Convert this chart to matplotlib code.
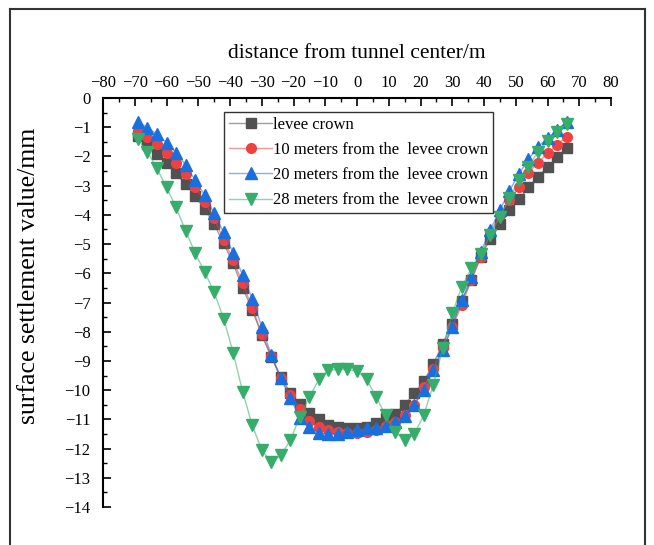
import numpy as np
import matplotlib
matplotlib.use("Agg")
from matplotlib import pyplot as plt
from matplotlib.lines import Line2D

plt.rcParams['font.family'] = ['Liberation Serif', 'DejaVu Serif']

# distance from tunnel center (m)
x = np.arange(-69, 67, 3)

levee_crown = [-1.29, -1.59, -1.91, -2.24, -2.58, -2.96, -3.36, -3.81, -4.32, -4.98,
               -5.66, -6.52, -7.24, -8.12, -8.86, -9.54, -10.09, -10.48, -10.78, -11.0,
               -11.2, -11.25, -11.3, -11.28, -11.25, -11.12, -10.97, -10.8, -10.5, -10.11,
               -9.7, -9.1, -8.42, -7.72, -6.95, -6.23, -5.43, -4.81, -4.33, -3.84,
               -3.46, -3.06, -2.69, -2.35, -2.03, -1.72]
m10 = [-1.12, -1.32, -1.59, -1.88, -2.21, -2.6, -3.04, -3.55, -4.12, -4.85,
       -5.56, -6.34, -7.18, -8.07, -8.84, -9.6, -10.17, -10.63, -11.05, -11.26,
       -11.37, -11.43, -11.45, -11.46, -11.43, -11.35, -11.22, -11.08, -10.86, -10.51,
       -9.89, -9.26, -8.57, -7.83, -7.09, -6.23, -5.43, -4.63, -4.0, -3.49,
       -3.04, -2.56, -2.21, -1.89, -1.61, -1.32]
m20 = [-0.81, -1.02, -1.24, -1.53, -1.87, -2.29, -2.81, -3.32, -3.95, -4.6,
       -5.3, -6.06, -6.88, -7.83, -8.8, -9.6, -10.28, -10.94, -11.26, -11.46,
       -11.51, -11.5, -11.43, -11.37, -11.31, -11.29, -11.23, -11.08, -10.89, -10.51,
       -10.0, -9.32, -8.63, -7.83, -6.92, -6.14, -5.26, -4.52, -3.84, -3.17,
       -2.6, -2.1, -1.67, -1.38, -1.1, -0.81]
m28 = [-1.42, -1.84, -2.41, -3.06, -3.74, -4.54, -5.3, -5.95, -6.65, -7.55,
       -8.72, -10.06, -11.2, -12.05, -12.45, -12.23, -11.71, -10.91, -10.23, -9.63,
       -9.32, -9.29, -9.29, -9.35, -9.63, -10.23, -10.86, -11.43, -11.71, -11.51,
       -10.86, -9.83, -8.57, -7.37, -6.46, -5.83, -5.34, -4.69, -4.06, -3.44,
       -2.81, -2.35, -1.84, -1.46, -1.15, -0.89]

labels = ['levee crown', '10 meters from the  levee crown',
          '20 meters from the  levee crown', '28 meters from the  levee crown']
colors = ['#515151', '#F14040', '#1A6FDF', '#37AD6B']
markers = ['s', 'o', '^', 'v']
sizes = [7, 7, 8, 8]

fig = plt.figure(figsize=(6.54, 5.45), dpi=100)
ax = fig.add_axes([0.1575, 0.0697, 0.7768, 0.7505])

for y, lab, c, m, s in zip([levee_crown, m10, m20, m28], labels, colors, markers, sizes):
    rgba = matplotlib.colors.to_rgba(c, 0.55)
    ax.plot(x, y, color=rgba, lw=1.0, marker=m, ms=s,
            markerfacecolor=c, markeredgecolor=c, label=lab)

ax.set_xlim(-80, 80)
ax.set_ylim(-14, 0)
ax.set_xticks(np.arange(-80, 81, 10))
ax.set_xticks(np.arange(-75, 80, 10), minor=True)
ax.set_yticks(np.arange(-14, 1, 1))
ax.set_yticks(np.arange(-13.5, 0, 1), minor=True)

ax.xaxis.tick_top()
ax.xaxis.set_label_position('top')
ax.spines['bottom'].set_visible(False)
ax.spines['right'].set_visible(False)
for sp in ['left', 'top']:
    ax.spines[sp].set_linewidth(1.5)
ax.tick_params(which='major', direction='in', length=6, width=1.2, labelsize=12)
ax.tick_params(axis='x', which='major', pad=5)
ax.tick_params(axis='y', which='major', pad=9)
ax.tick_params(which='minor', direction='in', length=3, width=1.0)

ax.set_xlabel('distance from tunnel center/m', fontsize=15.5, labelpad=12)
ax.set_ylabel('surface settlement value/mm', fontsize=18.5)
ax.yaxis.set_label_coords(-0.124, 0.565)

leg = ax.legend(loc='upper left', bbox_to_anchor=(0.238, 0.966), borderaxespad=0,
                fontsize=12, frameon=True, fancybox=False, handlelength=2.6,
                handletextpad=0.05, labelspacing=0.55, borderpad=0.3)
leg.get_frame().set_edgecolor('black')
leg.get_frame().set_linewidth(1.0)

# outer frame
W, H = 654, 545
fig.add_artist(Line2D([10 / W, 10 / W], [0, 1 - 9 / H], transform=fig.transFigure, color='#333333', lw=1.5))
fig.add_artist(Line2D([10 / W, 645 / W], [1 - 9 / H, 1 - 9 / H], transform=fig.transFigure, color='#333333', lw=1.5))
fig.add_artist(Line2D([645 / W, 645 / W], [0, 1 - 9 / H], transform=fig.transFigure, color='#333333', lw=1.5))

fig.savefig('out.png', dpi=100)
